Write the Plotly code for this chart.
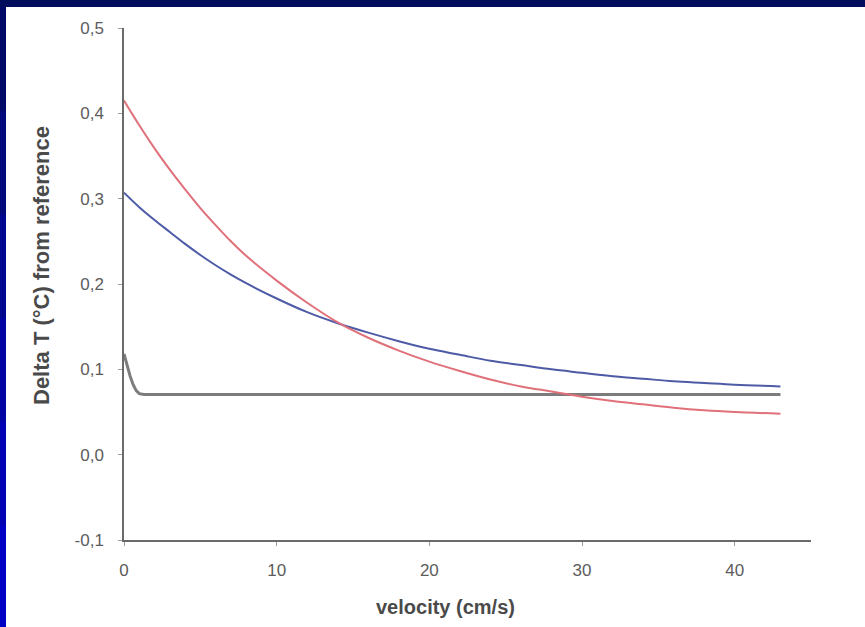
import plotly.graph_objects as go

# ---- data ----
velocity = [0, 1, 2, 3, 4, 5, 6, 7, 8, 10, 12, 14, 16, 18, 20, 22, 24, 26, 28, 30, 32, 34, 36, 38, 40, 43]
red_dT = [0.415, 0.386, 0.359, 0.334, 0.311, 0.289, 0.269, 0.250, 0.233, 0.204, 0.178, 0.155, 0.137, 0.122,
          0.109, 0.098, 0.088, 0.080, 0.074, 0.068, 0.063, 0.059, 0.055, 0.052, 0.050, 0.048]
blue_dT = [0.307, 0.290, 0.275, 0.261, 0.247, 0.234, 0.222, 0.211, 0.201, 0.183, 0.167, 0.154, 0.143, 0.133,
           0.124, 0.117, 0.110, 0.105, 0.100, 0.096, 0.092, 0.089, 0.086, 0.084, 0.082, 0.080]
gray_velocity = [0, 0.2, 0.4, 0.6, 0.8, 1.0, 1.3, 43]
gray_dT = [0.118, 0.104, 0.092, 0.082, 0.075, 0.0715, 0.0705, 0.0705]

x_tick_vals = [0, 10, 20, 30, 40]
x_tick_text = ["0", "10", "20", "30", "40"]
y_tick_vals = [-0.1, 0.0, 0.1, 0.2, 0.3, 0.4, 0.5]
y_tick_text = ["-0,1", "0,0", "0,1", "0,2", "0,3", "0,4", "0,5"]

x_title = "velocity (cm/s)"
y_title = "Delta T (°C) from reference"

W, H = 865, 627
L, R, T, B = 124, 54, 28, 87

fig = go.Figure()
fig.add_trace(go.Scatter(x=gray_velocity, y=gray_dT, mode="lines",
                         line=dict(color="#7c7c7c", width=3), showlegend=False))
fig.add_trace(go.Scatter(x=velocity, y=blue_dT, mode="lines",
                         line=dict(color="#4d5ba6", width=2, shape="spline"), showlegend=False))
fig.add_trace(go.Scatter(x=velocity, y=red_dT, mode="lines",
                         line=dict(color="#e0707a", width=2, shape="spline"), showlegend=False))

axis_font = dict(family="Liberation Sans, Arial", size=17, color="#5c5c5c")
fig.update_xaxes(range=[0, 45], tickvals=x_tick_vals, ticktext=x_tick_text, showgrid=False, zeroline=False,
                 showline=True, linecolor="#6a6a6a", linewidth=1.5, ticks="outside", ticklen=4,
                 tickcolor="#9a9a9a", tickfont=axis_font, ticklabelstandoff=10)
fig.update_yaxes(range=[-0.1, 0.5], tickvals=y_tick_vals, ticktext=y_tick_text, showgrid=False, zeroline=False,
                 showline=True, linecolor="#6a6a6a", linewidth=1.5, ticks="outside", ticklen=4,
                 tickcolor="#9a9a9a", tickfont=axis_font, ticklabelstandoff=11)

pw, ph = W - L - R, H - T - B
def px(xp):
    return (xp - L) / pw
def py(yp):
    return (H - B - yp) / ph

fig.add_annotation(text="<b>%s</b>" % x_title, xref="paper", yref="paper", x=px(445), y=py(607),
                   showarrow=False, font=dict(family="Liberation Sans, Arial", size=20, color="#4a4a4a"),
                   xanchor="center", yanchor="middle")
fig.add_annotation(text="<b>%s</b>" % y_title, xref="paper", yref="paper", x=px(41), y=py(266),
                   showarrow=False, font=dict(family="Liberation Sans, Arial", size=22, color="#4a4a4a"),
                   xanchor="center", yanchor="middle", textangle=-90)

# dark blue slide frame (top and left)
shapes = [dict(type="rect", xref="paper", yref="paper", x0=px(-2), x1=px(W + 2), y0=py(7), y1=py(-2),
               fillcolor="#000c5c", line=dict(width=0), layer="above")]
left_cols = ["#000a66", "#00087a", "#00068e", "#0004a2", "#0002b4", "#0000c4"]
seg = (H + 2 - 7) / len(left_cols)
for i, c in enumerate(left_cols):
    shapes.append(dict(type="rect", xref="paper", yref="paper", x0=px(-2), x1=px(6),
                       y0=py(7 + (i + 1) * seg + 2), y1=py(7 + i * seg),
                       fillcolor=c, line=dict(width=0), layer="above"))
fig.update_layout(shapes=shapes)

fig.update_layout(width=W, height=H, margin=dict(l=L, r=R, t=T, b=B, autoexpand=False),
                  paper_bgcolor="white", plot_bgcolor="white")
fig.write_html("out.html")
